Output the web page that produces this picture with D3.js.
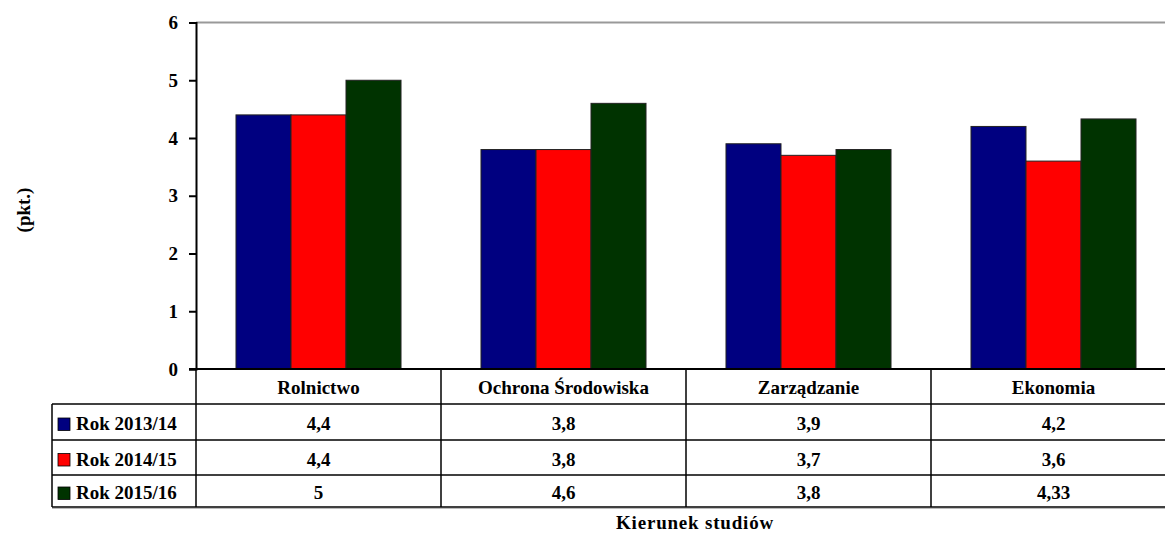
<!DOCTYPE html>
<html>
<head>
<meta charset="utf-8">
<script src="https://cdn.jsdelivr.net/npm/d3@7/dist/d3.min.js"></script>
<style>
  body { margin: 0; background: #fff; }
  svg { display: block; font-family: "Liberation Serif", "Times New Roman", serif; font-weight: bold; }
</style>
</head>
<body>
<script>
var categories = ["Rolnictwo", "Ochrona Środowiska", "Zarządzanie", "Ekonomia"];
var seriesNames = ["Rok 2013/14", "Rok 2014/15", "Rok 2015/16"];
var rok1314 = [4.4, 3.8, 3.9, 4.2];
var rok1415 = [4.4, 3.8, 3.7, 3.6];
var rok1516 = [5, 4.6, 3.8, 4.33];
var yTicks = [0, 1, 2, 3, 4, 5, 6];
var colours = ["#000080", "#ff0000", "#003300"];

var w = 1165, h = 533;
var plotLeft = 196, plotRight = 1176, plotTop = 22.5, plotBottom = 369;
var rowTops = [369, 404, 440, 475, 507];
var legendX = 52;
var fontSize = 19;

var seriesValues = [rok1314, rok1415, rok1516];
var data = [];
categories.forEach(function(c, i) {
  seriesNames.forEach(function(s, j) {
    data.push({cat: c, ser: s, value: seriesValues[j][i], colour: colours[j]});
  });
});

var xScale = d3.scaleBand().domain(categories).range([plotLeft, plotRight]).paddingInner(0);
var xInner = d3.scaleBand().domain(seriesNames).range([0, xScale.bandwidth()]).paddingInner(0).paddingOuter(0.727);
var yScale = d3.scaleLinear().domain([0, 6]).range([plotBottom, plotTop]);

var svg = d3.select("body").append("svg").attr("width", w).attr("height", h);

// top border of plot area
svg.append("line")
  .attr("x1", plotLeft).attr("x2", plotRight)
  .attr("y1", yScale(6)).attr("y2", yScale(6))
  .attr("stroke", "#999").attr("stroke-width", 2);

svg.selectAll("rect.bar")
  .data(data)
  .enter()
  .append("rect")
  .attr("class", "bar")
  .attr("x", function(d) { return xScale(d.cat) + xInner(d.ser); })
  .attr("width", xInner.bandwidth())
  .attr("y", function(d) { return yScale(d.value); })
  .attr("height", function(d) { return plotBottom - yScale(d.value); })
  .attr("fill", function(d) { return d.colour; })
  .attr("stroke", "#222")
  .attr("stroke-width", 1);

var yAxis = d3.axisLeft(yScale).tickValues(yTicks).tickSize(7).tickPadding(11).tickFormat(d3.format("d"));
var gy = svg.append("g")
  .attr("transform", "translate(" + plotLeft + ",0)")
  .call(yAxis);
gy.select(".domain").attr("stroke", "#000").attr("stroke-width", 2);
gy.selectAll(".tick line").attr("stroke", "#000").attr("stroke-width", 2);
gy.selectAll(".tick text").attr("font-size", fontSize).attr("font-family", "Liberation Serif").attr("font-weight", "bold").attr("fill", "#000");

// baseline
svg.append("line")
  .attr("x1", plotLeft - 7).attr("x2", plotRight)
  .attr("y1", plotBottom).attr("y2", plotBottom)
  .attr("stroke", "#000").attr("stroke-width", 2);

// data table
var table = svg.append("g");
table.append("line")
  .attr("x1", plotLeft).attr("x2", plotLeft)
  .attr("y1", plotBottom).attr("y2", rowTops[4])
  .attr("stroke", "#000").attr("stroke-width", 1.5);
categories.forEach(function(c) {
  var x = xScale(c) + xScale.bandwidth();
  table.append("line")
    .attr("x1", x).attr("x2", x)
    .attr("y1", plotBottom).attr("y2", rowTops[4])
    .attr("stroke", "#000").attr("stroke-width", 1.5);
});
[1, 2, 3, 4].forEach(function(r) {
  table.append("line")
    .attr("x1", legendX).attr("x2", plotRight)
    .attr("y1", rowTops[r]).attr("y2", rowTops[r])
    .attr("stroke", "#000").attr("stroke-width", 1.5);
});
table.append("line")
  .attr("x1", legendX).attr("x2", plotRight)
  .attr("y1", rowTops[4] + 1.5).attr("y2", rowTops[4] + 1.5)
  .attr("stroke", "#bbb").attr("stroke-width", 1);
table.append("line")
  .attr("x1", legendX).attr("x2", legendX)
  .attr("y1", rowTops[1]).attr("y2", rowTops[4])
  .attr("stroke", "#000").attr("stroke-width", 1.5);

table.selectAll("text.cat")
  .data(categories)
  .enter()
  .append("text")
  .attr("x", function(d) { return xScale(d) + xScale.bandwidth() / 2; })
  .attr("y", (rowTops[0] + rowTops[1]) / 2 + 7)
  .attr("text-anchor", "middle")
  .attr("font-size", fontSize)
  .text(function(d) { return d; });

seriesNames.forEach(function(s, j) {
  var yMid = (rowTops[j + 1] + rowTops[j + 2]) / 2;
  table.append("rect")
    .attr("x", 58).attr("y", yMid - 4)
    .attr("width", 12).attr("height", 12.5)
    .attr("fill", colours[j]).attr("stroke", "#000").attr("stroke-width", 0.8);
  table.append("text")
    .attr("x", 76).attr("y", yMid + 8)
    .attr("font-size", fontSize)
    .text(s);
  categories.forEach(function(c, i) {
    table.append("text")
      .attr("x", xScale(c) + xScale.bandwidth() / 2)
      .attr("y", yMid + 8)
      .attr("text-anchor", "middle")
      .attr("font-size", fontSize)
      .text(String(seriesValues[j][i]).replace(".", ","));
  });
});

// axis titles
svg.append("text")
  .attr("transform", "translate(30,210) rotate(-90)")
  .attr("text-anchor", "middle")
  .attr("font-size", fontSize)
  .text("(pkt.)");

svg.append("text")
  .attr("x", 695).attr("y", 529)
  .attr("text-anchor", "middle")
  .attr("font-size", fontSize)
  .attr("letter-spacing", 0.8)
  .text("Kierunek studiów");
</script>
</body>
</html>
